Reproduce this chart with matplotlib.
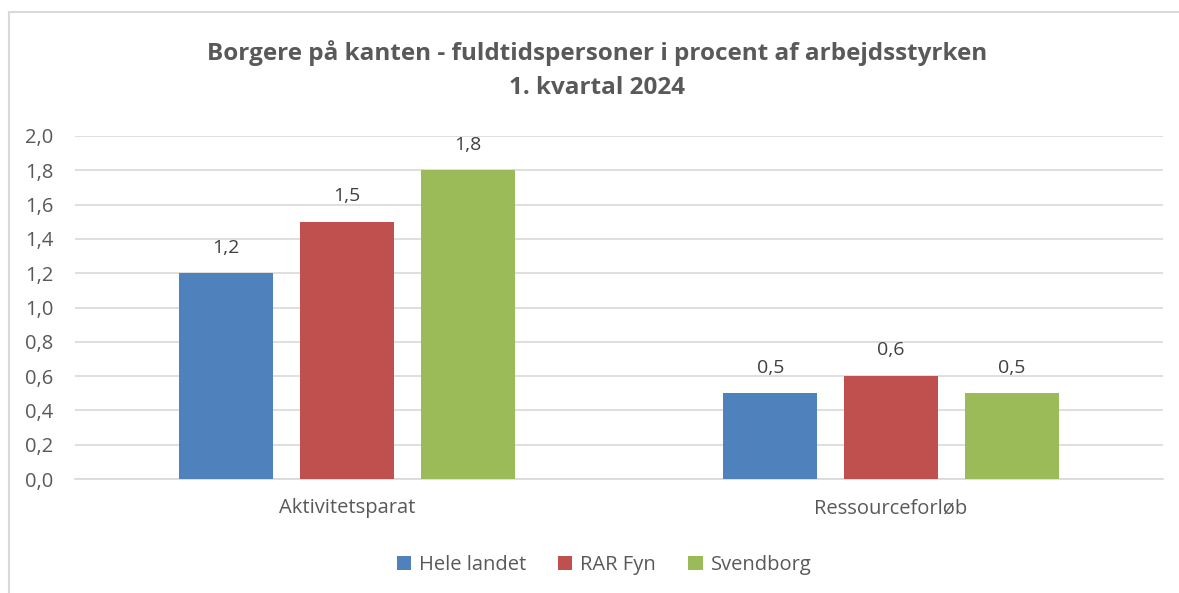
import matplotlib
matplotlib.use("Agg")
import matplotlib.pyplot as plt
import numpy as np
from matplotlib.lines import Line2D

categories = ["Aktivitetsparat", "Ressourceforløb"]
series_names = ["Hele landet", "RAR Fyn", "Svendborg"]
hele_landet = [1.2, 0.5]
rar_fyn = [1.5, 0.6]
svendborg = [1.8, 0.5]
yticks = [0.0, 0.2, 0.4, 0.6, 0.8, 1.0, 1.2, 1.4, 1.6, 1.8, 2.0]
title = "Borgere på kanten - fuldtidspersoner i procent af arbejdsstyrken\n1. kvartal 2024"

colors = ["#4f81bd", "#c0504d", "#9bbb59"]
text_color = "#595959"
plt.rcParams['font.family'] = ['Open Sans', 'DejaVu Sans']

fig = plt.figure(figsize=(11.79, 5.93), dpi=100)
bx, by = 9.5/1179, 1 - 11.5/593
fig.lines.append(Line2D([bx, 1.0], [by, by], transform=fig.transFigure, color="#d9d9d9", linewidth=1.5))
fig.lines.append(Line2D([bx, bx], [0.0, by], transform=fig.transFigure, color="#d9d9d9", linewidth=1.5))
ax = fig.add_axes([75/1179, 1 - 479/593, (1163 - 75)/1179, (479 - 136)/593])

x = np.arange(len(categories))
width = 0.173
step = 0.222
for i, (vals, name) in enumerate(zip([hele_landet, rar_fyn, svendborg], series_names)):
    pos = x + (i - 1) * step
    bars = ax.bar(pos, vals, width, color=colors[i], label=name, zorder=3)
    for b, v in zip(bars, vals):
        ax.annotate(f"{v:.1f}".replace(".", ","), (b.get_x() + b.get_width()/2, v),
                    xytext=(0, 12), textcoords="offset points", ha="center", va="bottom",
                    fontsize=14, color="#404040")

ax.set_xlim(-0.5, 1.5)
ax.set_ylim(0, 2.0)
ax.set_yticks(yticks)
ax.set_yticklabels([f"{t:.1f}".replace(".", ",") for t in yticks])
ax.set_xticks(x)
ax.set_xticklabels(categories)
ax.tick_params(axis="both", length=0, labelsize=14.5, colors=text_color)
ax.tick_params(axis="y", pad=15.5)
ax.tick_params(axis="x", pad=14)
ax.grid(axis="y", color="#d9d9d9", linewidth=1.2, zorder=0)
for s in ["top", "right", "left"]:
    ax.spines[s].set_visible(False)
ax.spines["bottom"].set_color("#d9d9d9")
ax.spines["bottom"].set_linewidth(1.2)

fig.text(597/1179, 1 - 70/593, title, ha="center", va="center", fontsize=17.5,
         fontweight="bold", color=text_color, linespacing=1.6)

leg = fig.legend(loc="center", bbox_to_anchor=(604/1179, 1 - 565/593), ncol=3, frameon=False,
                 fontsize=14.5, handlelength=0.7, handleheight=0.7, handletextpad=0.4,
                 columnspacing=1.6)
for t in leg.get_texts():
    t.set_color(text_color)

fig.savefig("out.png", dpi=100)
